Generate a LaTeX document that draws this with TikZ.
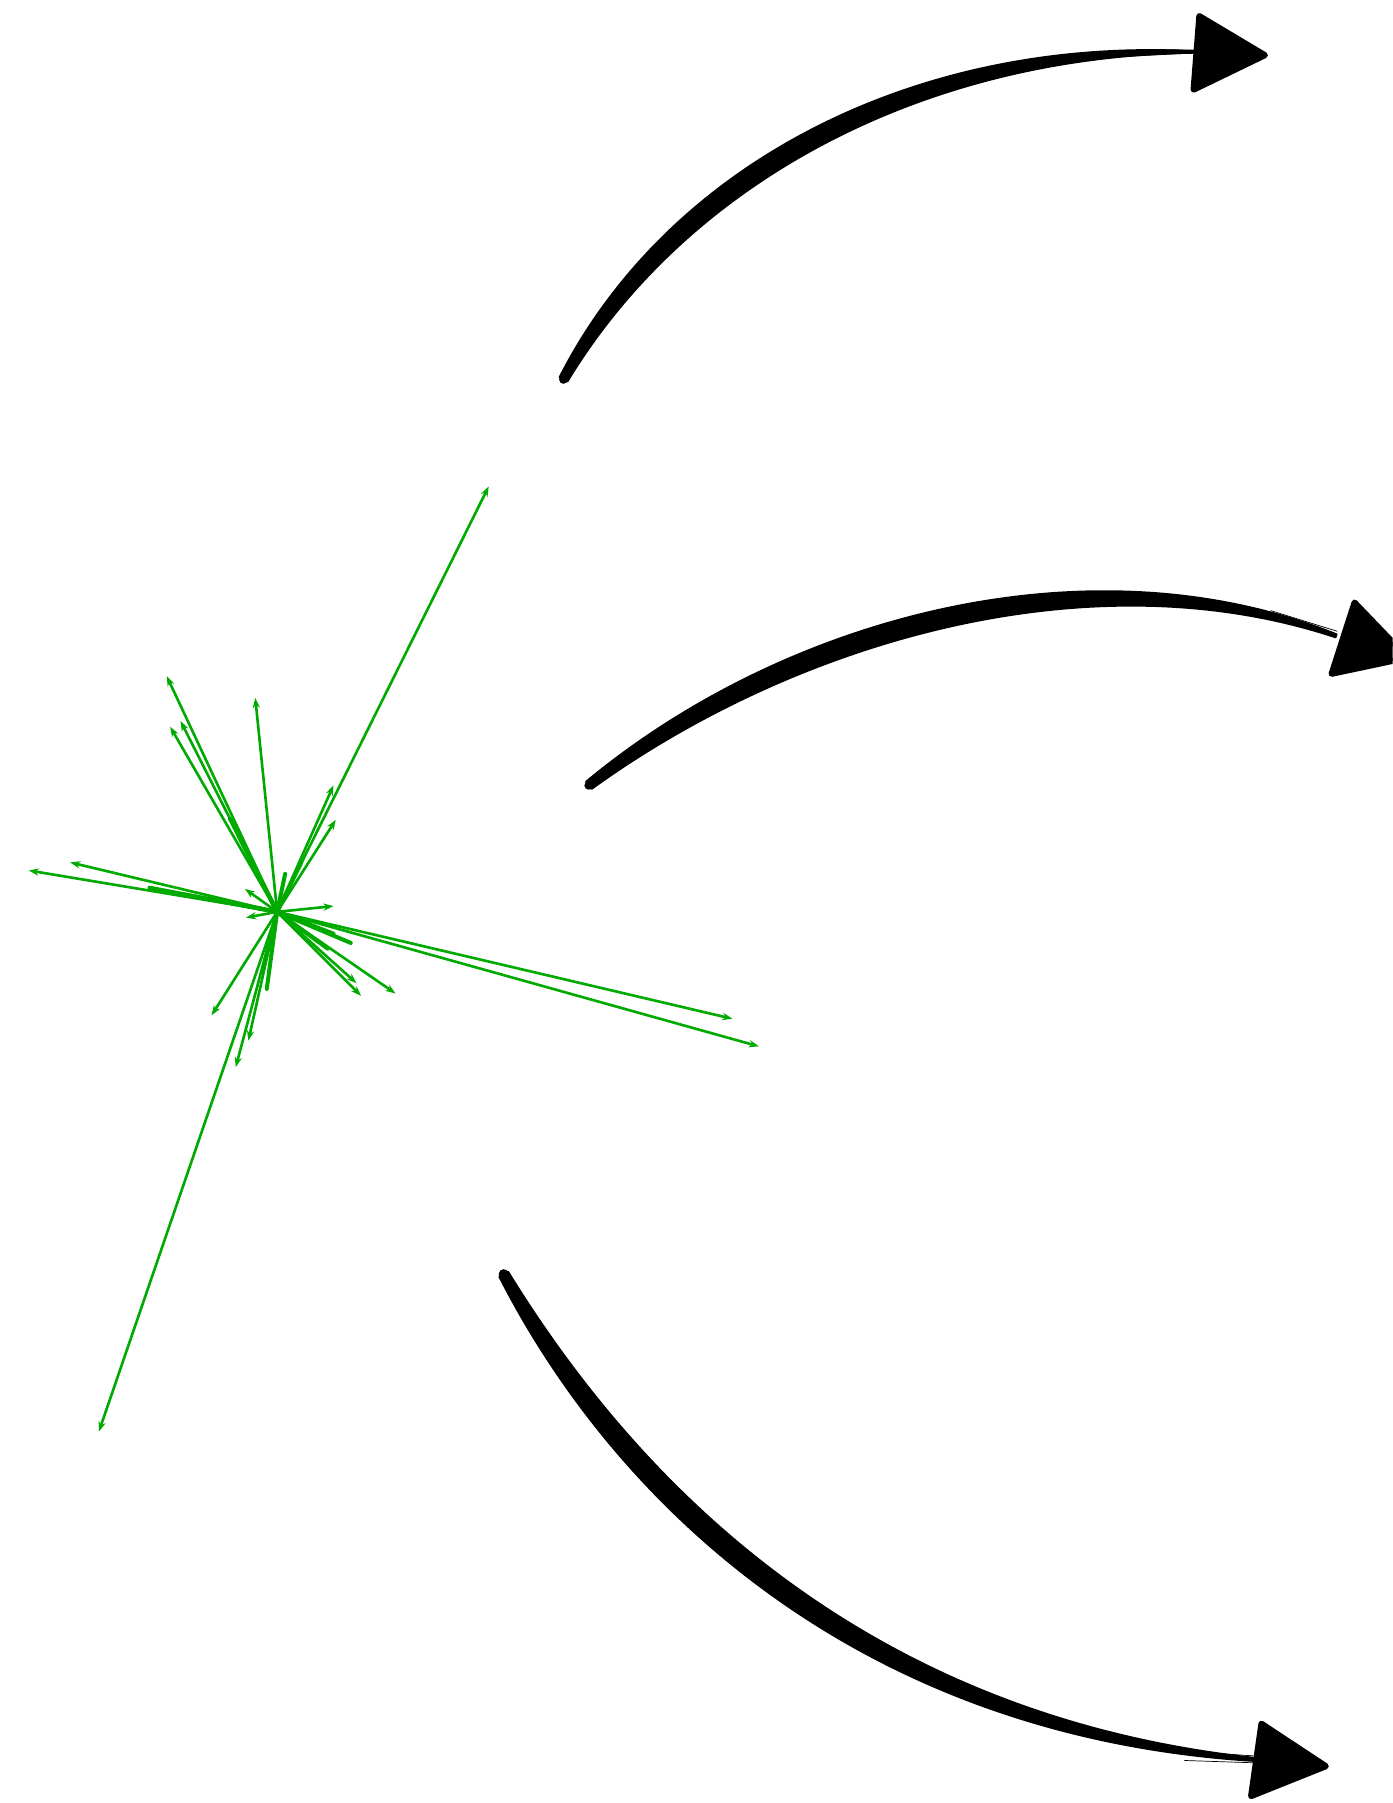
\documentclass[tikz,border=0pt]{standalone}
\usetikzlibrary{arrows.meta}
\definecolor{sg}{RGB}{0,170,0}
\begin{document}
\begin{tikzpicture}[x=0.02cm,y=-0.02cm,
  ray/.style={draw=sg, line width=1.3pt, -{Stealth[length=5pt,width=3.6pt]}},
  thickray/.style={draw=sg, line width=2pt, line cap=round},
  brush/.style={fill=black, draw=black, line width=0.8pt, line join=round},
  headtri/.style={fill=black, draw=black, line width=3pt, line join=round},
  fray/.style={draw=black, line width=0.35pt}]
\clip (0,0) rectangle (1211,1568);
\fill[white] (0,0) rectangle (1211,1568);

% ---------- green star ----------
\coordinate (c) at (241,793);
\foreach \x/\y [count=\i] in {425/423, 145/588, 148/632, 157/627, 222/607, 290/683,
   292/713, 25/757, 61/750, 290/788, 637/886, 660/910, 344/864, 314/866, 310/855,
   184/883, 205/928, 216/905, 86/1245, 213/773, 214/798}
{
  \coordinate (r\i) at (\x,\y);
  \draw[ray] (c) -- (r\i);
}
% thicker overlapping strokes near the centre
\foreach \x/\y [count=\i] in {130/772, 160/778, 190/783, 208/728, 200/712, 218/748,
   290/812, 305/820, 285/825, 228/845, 232/860, 262/750, 248/760}
{
  \coordinate (t\i) at (\x,\y);
  \draw[thickray] (c) -- (t\i);
}

% ---------- arrow 1 (top) ----------
\coordinate (s1) at (490,330);
\coordinate (e1) at (1040,46);
\fill (s1) circle (3.8);
\path[brush] (493.5,331.9) .. controls (598.2,158.8) and (802,48.8) .. (e1)
  -- (1040,44.5) .. controls (798,31.2) and (581.8,141.2) .. (486.5,328.1) -- cycle;
\draw[fray] (980,49) -- (e1);
\draw[fray] (990,43) -- (1040,43.5);
\coordinate (h1a) at (1043,14);
\coordinate (h1b) at (1100,48);
\coordinate (h1c) at (1038,78);
\path[headtri] (h1a) -- (h1b) -- (h1c) -- cycle;

% ---------- arrow 2 (middle) ----------
\coordinate (s2) at (512,683);
\coordinate (e2) at (1162,553);
\fill (s2) circle (3.8);
\path[brush] (514.5,686.2) .. controls (695.1,555.8) and (949.8,484) .. (1161.5,554.4)
  -- (1162.5,551.6) .. controls (950.2,466) and (684.9,534.2) .. (509.5,679.8) -- cycle;
\draw[fray] (1100,537) -- (e2);
\draw[fray] (1105,531) -- (1163,549);
\coordinate (h2a) at (1178,524);
\coordinate (h2b) at (1224,572);
\coordinate (h2c) at (1158,586);
\path[headtri] (h2a) -- (h2b) -- (h2c) -- cycle;

% ---------- arrow 3 (bottom) ----------
\coordinate (s3) at (438,1108);
\coordinate (e3) at (1090,1530);
\fill (s3) circle (4.3);
\path[brush] (434.1,1110.2) .. controls (529.7,1297.9) and (736,1509.2) .. (1089.9,1531.5)
  -- (1090.1,1528.5) .. controls (744,1490.8) and (550.3,1282.1) .. (441.9,1105.8) -- cycle;
\draw[fray] (1030,1523) -- (1090,1527);
\draw[fray] (1030,1531) -- (1090,1533);
\coordinate (h3a) at (1097,1499);
\coordinate (h3b) at (1153,1536);
\coordinate (h3c) at (1088,1562);
\path[headtri] (h3a) -- (h3b) -- (h3c) -- cycle;
\end{tikzpicture}
\end{document}
